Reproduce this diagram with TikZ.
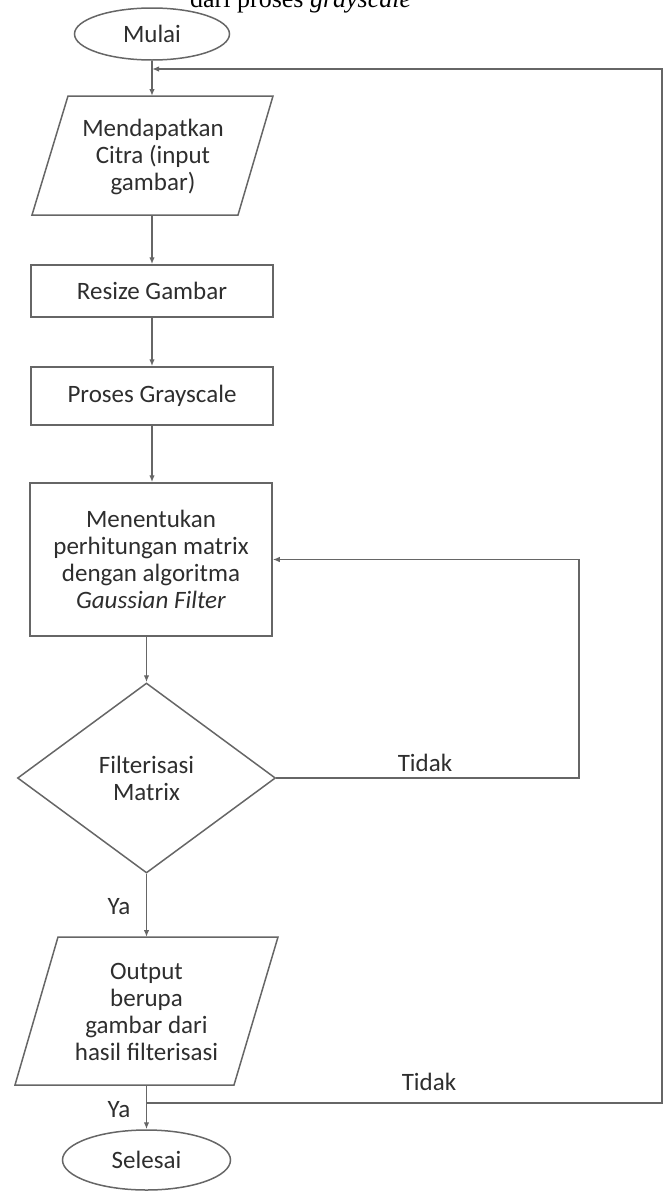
\documentclass[tikz,border=0pt]{standalone}
\usepackage{fontspec}
\setmainfont{Carlito}
\newfontfamily\capfont{Liberation Serif}
\usetikzlibrary{shapes.geometric,arrows.meta}
\definecolor{linec}{HTML}{666666}
\definecolor{textc}{HTML}{2E2E2E}
\begin{document}
\begin{tikzpicture}[x=1pt,y=-1pt,
  every node/.style={text=textc, font=\fontsize{25}{27}\selectfont},
  conn/.style={draw=linec, line width=1.5pt},
  arr/.style={conn, -{Latex[length=7pt,width=5.5pt]}},
  procbox/.style={draw=linec, line width=1.5pt, rectangle, minimum width=242pt, align=center, inner sep=0pt},
  term/.style={draw=linec, line width=1.5pt, ellipse, inner sep=0pt},
  decis/.style={draw=linec, line width=1.5pt, diamond, inner sep=0pt, minimum width=258pt, minimum height=190pt, align=center},
  iotext/.style={align=center, inner sep=0pt},
  lbl/.style={inner sep=0pt}]
\useasboundingbox (0,0) rectangle (667,1192);
\clip (0,0) rectangle (667,1192);

% cut-off caption at the top
\node[anchor=base west, inner sep=0pt, text=black, font=\capfont\fontsize{26}{28}\selectfont] (cap) at (190,7) {dari proses \textit{grayscale}};

% terminals
\node[term, minimum width=155pt, minimum height=52pt] (mulai) at (152,34) {Mulai};
\node[term, minimum width=168pt, minimum height=60pt] (selesai) at (146.5,1160) {Selesai};

% input parallelogram
\coordinate (inTL) at (68,96);
\coordinate (inTR) at (273,96);
\coordinate (inBR) at (238,215);
\coordinate (inBL) at (32,215);
\draw[conn] (inTL) -- (inTR) -- (inBR) -- (inBL) -- cycle;
\node[iotext] (input) at (153,157) {Mendapatkan\\Citra (input\\gambar)};
\coordinate (inT) at (152,96);
\coordinate (inB) at (152,215);

% process boxes
\node[procbox, minimum height=52pt] (resize) at (152,291) {Resize Gambar};
\node[procbox, minimum height=58pt] (gray) at (152,396) {Proses Grayscale};
\node[procbox, minimum height=153pt] (gauss) at (151,559.5) {Menentukan\\perhitungan matrix\\dengan algoritma\\\textit{Gaussian Filter}};

% decision
\node[decis] (filt) at (146.5,778) {Filterisasi\\Matrix};

% output parallelogram
\coordinate (outTL) at (58,937);
\coordinate (outTR) at (278,937);
\coordinate (outBR) at (234,1085);
\coordinate (outBL) at (15,1085);
\draw[conn] (outTL) -- (outTR) -- (outBR) -- (outBL) -- cycle;
\node[iotext] (output) at (146.5,1012) {Output\\berupa\\gambar dari\\hasil filterisasi};
\coordinate (outT) at (146.5,937);
\coordinate (outB) at (146.5,1085);

% connectors
\draw[arr] (mulai.south) -- (inT);
\draw[arr] (inB) -- (resize.north);
\draw[arr] (resize.south) -- (gray.north);
\draw[arr] (gray.south) -- (gauss.north -| gray.south);
\draw[arr] (gauss.south -| filt.north) -- (filt.north);
\coordinate (loopR) at (579,778);
\coordinate (loopT) at (579,559.5);
\draw[arr] (filt.east) -- (loopR) -- (loopT) -- (gauss.east);
\draw[arr] (filt.south) -- (outT);
\draw[arr] (outB) -- (selesai.north);
\coordinate (retB) at (146.5,1103);
\coordinate (retBR) at (662,1103);
\coordinate (retTR) at (662,69);
\coordinate (retT) at (152,69);
\draw[arr] (retB) -- (retBR) -- (retTR) -- (retT);

% labels
\node[lbl] (tidak1) at (425,763) {Tidak};
\node[lbl] (ya1) at (119,907) {Ya};
\node[lbl] (tidak2) at (429,1082) {Tidak};
\node[lbl] (ya2) at (119,1110) {Ya};
\end{tikzpicture}
\end{document}
